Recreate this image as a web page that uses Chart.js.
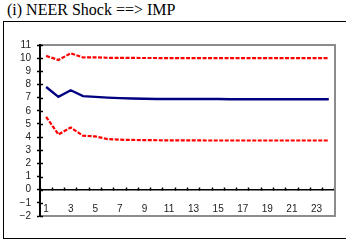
<!DOCTYPE html>
<html>
<head>
<meta charset="utf-8">
<script src="https://cdn.jsdelivr.net/npm/chart.js@4/dist/chart.umd.min.js"></script>
<style>
  html, body { margin: 0; padding: 0; background: #fff; }
  #wrap { position: relative; width: 346px; height: 242px; overflow: hidden; }
  #title { position: absolute; left: 7px; top: 1px; font-family: "Liberation Serif", "Times New Roman", serif; font-size: 16px; color: #000; white-space: nowrap; }
  #box { position: absolute; left: 3px; top: 21px; width: 360px; height: 216px; border: 1px solid #000; }
  #cv { position: absolute; left: 0; top: 0; }
</style>
</head>
<body>
<div id="wrap">
  <div id="title">(i) NEER Shock ==&gt; IMP</div>
  <div id="box"></div>
  <canvas id="cv" width="346" height="242"></canvas>
</div>
<script>
'use strict';

// horizon (periods)
var periods = ['1','2','3','4','5','6','7','8','9','10','11','12','13','14','15','16','17','18','19','20','21','22','23','24'];
// x tick labels shown (every other period)
var tickLabels = ['1','','3','','5','','7','','9','','11','','13','','15','','17','','19','','21','','23',''];

// upper band, response, lower band
var upperBand = [10.17, 9.86, 10.37, 10.05, 10.06, 10.03, 10.02, 10.02, 10.01, 10.01, 10.0, 10.0, 10.0, 10.0, 10.0, 10.0, 10.0, 10.0, 10.0, 10.0, 10.0, 10.0, 10.0, 10.0];
var response  = [7.81, 7.06, 7.56, 7.11, 7.06, 7.0, 6.96, 6.93, 6.91, 6.9, 6.9, 6.89, 6.89, 6.89, 6.89, 6.88, 6.88, 6.88, 6.88, 6.88, 6.88, 6.88, 6.88, 6.88];
var lowerBand = [5.54, 4.2, 4.73, 4.1, 4.05, 3.85, 3.8, 3.78, 3.77, 3.76, 3.75, 3.75, 3.75, 3.74, 3.74, 3.74, 3.74, 3.74, 3.74, 3.74, 3.74, 3.74, 3.74, 3.74];

var yMin = -2, yMax = 11;

// gray frame round the plot + inner half of the y ticks
var framePlugin = {
    id: 'frame',
    afterDraw: function (chart) {
        var a = chart.chartArea, c = chart.ctx, y = chart.scales.y;
        var l = Math.round(a.left), t = Math.round(a.top), r = Math.round(a.right), b = Math.round(a.bottom);
        c.save();
        c.strokeStyle = '#8c8c8c';
        c.lineWidth = 2;
        c.beginPath();
        c.moveTo(l + 1, t);
        c.lineTo(r, t);
        c.moveTo(r, t - 1);
        c.lineTo(r, b + 1);
        c.moveTo(l + 1, b);
        c.lineTo(r, b);
        c.stroke();
        c.strokeStyle = '#000';
        c.lineWidth = 1.5;
        c.beginPath();
        for (var v = yMin; v <= yMax; v++) {
            var py = Math.round(y.getPixelForValue(v)) + 0.5;
            c.moveTo(l, py);
            c.lineTo(l + 3, py);
        }
        c.stroke();
        c.restore();
    }
};

var dashed = [4, 1.5];

new Chart(document.getElementById('cv').getContext('2d'), {
    type: 'line',
    data: {
        labels: periods,
        datasets: [
            { data: upperBand, borderColor: '#ff0000', borderWidth: 2.2, borderDash: dashed, pointRadius: 0, tension: 0, fill: false },
            { data: response, borderColor: '#000080', borderWidth: 2.4, pointRadius: 0, tension: 0, fill: false },
            { data: lowerBand, borderColor: '#ff0000', borderWidth: 2.2, borderDash: dashed, pointRadius: 0, tension: 0, fill: false }
        ]
    },
    options: {
        responsive: false,
        animation: false,
        devicePixelRatio: 1,
        layout: { padding: { top: 45, right: 11, bottom: 26, left: 0 } },
        plugins: { legend: { display: false }, tooltip: { enabled: false } },
        scales: {
            x: {
                type: 'category',
                offset: true,
                position: { y: 0 },
                grid: { offset: true, drawOnChartArea: false, tickLength: -3, tickColor: '#000', tickWidth: 1.5 },
                border: { color: '#000', width: 1.5 },
                ticks: {
                    autoSkip: false, maxRotation: 0, padding: 17, color: '#222',
                    font: { family: 'Liberation Sans, Arial, sans-serif', size: 10 },
                    callback: function (v, i) { return tickLabels[i]; }
                }
            },
            y: {
                min: yMin, max: yMax,
                afterFit: function (s) { s.width = 40; },
                grid: { drawOnChartArea: false, tickLength: 3, tickColor: '#000', tickWidth: 1.5 },
                border: { color: '#000', width: 2 },
                ticks: {
                    stepSize: 1, autoSkip: false, padding: 6, color: '#222',
                    font: { family: 'Liberation Sans, Arial, sans-serif', size: 10 },
                    callback: function (v) { return v < 0 ? '\u2212' + Math.abs(v) : String(v); }
                }
            }
        }
    },
    plugins: [framePlugin]
});
</script>
</body>
</html>
